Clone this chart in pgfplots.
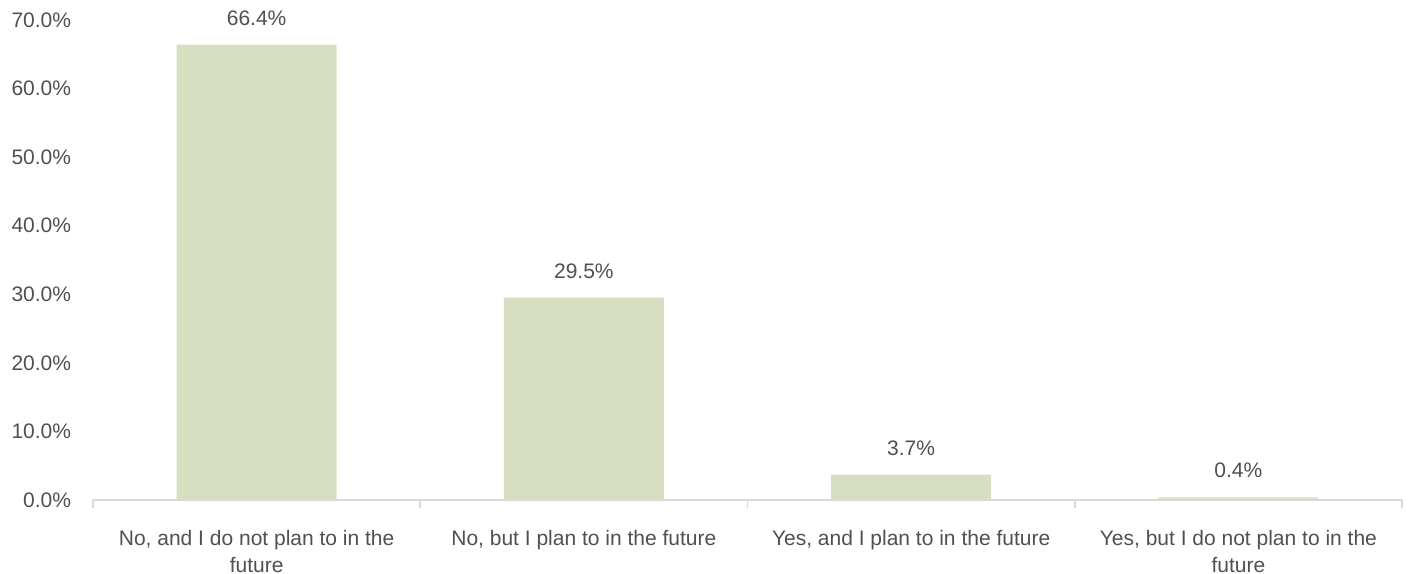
\documentclass[border=0pt]{standalone}
\usepackage{fontspec}
\setmainfont{Liberation Sans}
\usepackage{pgfplots}
\pgfplotsset{compat=1.18}
\definecolor{barfill}{HTML}{D8DFC1}
\definecolor{txt}{HTML}{505050}
\definecolor{axl}{HTML}{D9D9D9}
\begin{document}
\fontsize{10.5bp}{13.5bp}\selectfont
\begin{tikzpicture}
\useasboundingbox (0,0) rectangle (704bp,287bp);
\begin{axis}[
  at={(46.5bp,37bp)}, anchor=south west,
  width=654.5bp, height=240bp, scale only axis,
  ymin=0, ymax=70, xmin=-0.5, xmax=3.5,
  axis lines*=left,
  y axis line style={draw=none},
  x axis line style={draw=axl, line width=0.8bp},
  ytick={0,10,...,70},
  ytick style={draw=none},
  xtick={0,1,2,3},
  xticklabels={{No, and I do not plan to in the\\future},{No, but I plan to in the future},{Yes, and I plan to in the future},{Yes, but I do not plan to in the\\future}},
  major x tick style={draw=none},
  minor xtick={-0.5,0.5,1.5,2.5,3.5},
  minor x tick style={draw=axl, line width=0.8bp},
  minor tick length=4bp,
  tick align=outside,
  xticklabel style={align=center, text=txt, yshift=-7bp, font=\fontsize{10.5bp}{13.5bp}\selectfont},
  yticklabel style={text=txt, xshift=-3bp, font=\fontsize{10.5bp}{12bp}\selectfont},
  /pgf/number format/assume math mode=true,
  yticklabel={\pgfmathprintnumber[fixed,fixed zerofill,precision=1]{\tick}\%},
  ybar, bar width=80bp,
  nodes near coords={\pgfmathprintnumber[fixed,fixed zerofill,precision=1]{\pgfplotspointmeta}\%},
  nodes near coords style={text=txt, yshift=6bp, font=\fontsize{10.5bp}{12bp}\selectfont},
  clip=false,
]
\addplot[fill=barfill, draw=none] coordinates {(0,66.4) (1,29.5) (2,3.7) (3,0.4)};
\end{axis}
\end{tikzpicture}
\end{document}
